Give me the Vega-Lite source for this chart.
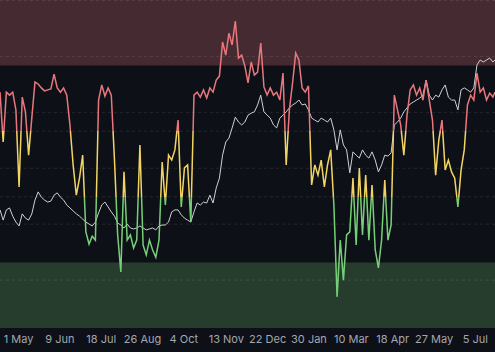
{
  "$schema": "https://vega.github.io/schema/vega-lite/v6.json",
  "width": 495,
  "height": 328,
  "autosize": {"type": "none"},
  "padding": {"left": 0, "top": 0, "right": 0, "bottom": 24},
  "background": "#0d1016",
  "config": {"view": {"stroke": null}},
  "datasets": {
    "bands": [
      {"zone": "high", "lo": 80, "hi": 100},
      {"zone": "low", "lo": 0, "hi": 20}
    ],
    "grid": [
      {"v": 99.85}, {"v": 82.8}, {"v": 65.75}, {"v": 60}, {"v": 48.7}, {"v": 40}, {"v": 31.65}, {"v": 14.6}
    ],
    "main": [
      {"d":"2023-04-14","c":71.9,"w":36.0},{"d":"2023-04-17","c":56.7,"w":32.9},{"d":"2023-04-20","c":71.9,"w":36.0},{"d":"2023-04-23","c":71.0,"w":36.6},{"d":"2023-04-26","c":71.9,"w":34.1},{"d":"2023-04-29","c":66.5,"w":32.3},{"d":"2023-05-02","c":43.0,"w":31.1},{"d":"2023-05-05","c":70.4,"w":34.8},{"d":"2023-05-08","c":65.9,"w":33.5},{"d":"2023-05-11","c":52.7,"w":32.9},
      {"d":"2023-05-14","c":64.0,"w":34.8},{"d":"2023-05-17","c":75.0,"w":39.0},{"d":"2023-05-20","c":74.4,"w":41.5},{"d":"2023-05-23","c":73.2,"w":39.9},{"d":"2023-05-26","c":72.3,"w":39.0},{"d":"2023-05-29","c":72.6,"w":38.4},{"d":"2023-06-01","c":72.9,"w":38.7},{"d":"2023-06-04","c":77.4,"w":40.5},{"d":"2023-06-07","c":73.2,"w":41.2},{"d":"2023-06-10","c":71.9,"w":39.9},
      {"d":"2023-06-13","c":73.2,"w":39.0},{"d":"2023-06-16","c":71.0,"w":37.5},{"d":"2023-06-19","c":61.9,"w":36.6},{"d":"2023-06-22","c":49.7,"w":35.7},{"d":"2023-06-25","c":40.5,"w":34.8},{"d":"2023-06-28","c":45.7,"w":34.1},{"d":"2023-07-01","c":52.7,"w":33.2},{"d":"2023-07-04","c":29.3,"w":32.3},{"d":"2023-07-07","c":25.6,"w":31.7},{"d":"2023-07-10","c":28.0,"w":31.1},
      {"d":"2023-07-13","c":26.8,"w":32.3},{"d":"2023-07-16","c":69.5,"w":35.1},{"d":"2023-07-19","c":74.1,"w":37.5},{"d":"2023-07-22","c":70.7,"w":38.4},{"d":"2023-07-25","c":73.2,"w":36.9},{"d":"2023-07-28","c":71.0,"w":35.4},{"d":"2023-07-31","c":51.2,"w":34.1},{"d":"2023-08-03","c":28.4,"w":32.0},{"d":"2023-08-06","c":17.1,"w":31.4},{"d":"2023-08-09","c":47.6,"w":30.5},
      {"d":"2023-08-12","c":26.8,"w":31.7},{"d":"2023-08-15","c":28.4,"w":30.5},{"d":"2023-08-18","c":24.4,"w":30.2},{"d":"2023-08-21","c":26.8,"w":30.5},{"d":"2023-08-24","c":55.8,"w":31.1},{"d":"2023-08-27","c":25.3,"w":30.5},{"d":"2023-08-30","c":22.3,"w":29.9},{"d":"2023-09-02","c":26.8,"w":30.2},{"d":"2023-09-05","c":23.8,"w":30.5},{"d":"2023-09-08","c":21.6,"w":29.9},
      {"d":"2023-09-11","c":26.8,"w":31.1},{"d":"2023-09-14","c":50.6,"w":31.4},{"d":"2023-09-17","c":37.5,"w":31.4},{"d":"2023-09-20","c":52.7,"w":32.3},{"d":"2023-09-23","c":51.2,"w":35.4},{"d":"2023-09-26","c":54.3,"w":36.0},{"d":"2023-09-29","c":63.4,"w":36.0},{"d":"2023-10-02","c":36.9,"w":34.5},{"d":"2023-10-05","c":48.8,"w":33.5},{"d":"2023-10-08","c":49.7,"w":32.9},
      {"d":"2023-10-11","c":32.3,"w":32.3},{"d":"2023-10-14","c":71.0,"w":35.4},{"d":"2023-10-17","c":71.9,"w":38.1},{"d":"2023-10-20","c":70.4,"w":37.5},{"d":"2023-10-23","c":72.6,"w":38.4},{"d":"2023-10-26","c":70.1,"w":38.1},{"d":"2023-10-29","c":73.2,"w":40.5},{"d":"2023-11-01","c":71.9,"w":38.1},{"d":"2023-11-04","c":75.6,"w":42.7},{"d":"2023-11-07","c":76.8,"w":45.7},
      {"d":"2023-11-10","c":87.2,"w":52.7},{"d":"2023-11-13","c":83.2,"w":56.7},{"d":"2023-11-16","c":89.9,"w":57.9},{"d":"2023-11-19","c":86.3,"w":61.0},{"d":"2023-11-22","c":93.6,"w":64.3},{"d":"2023-11-25","c":82.3,"w":62.8},{"d":"2023-11-28","c":83.2,"w":61.9},{"d":"2023-12-01","c":79.9,"w":62.8},{"d":"2023-12-04","c":74.7,"w":64.9},{"d":"2023-12-07","c":81.1,"w":65.5},
      {"d":"2023-12-10","c":77.1,"w":65.9},{"d":"2023-12-13","c":78.0,"w":68.0},{"d":"2023-12-16","c":86.9,"w":71.0},{"d":"2023-12-19","c":73.5,"w":65.9},{"d":"2023-12-22","c":71.0,"w":64.9},{"d":"2023-12-25","c":73.2,"w":64.0},{"d":"2023-12-28","c":71.0,"w":61.9},{"d":"2023-12-31","c":71.9,"w":61.0},{"d":"2024-01-03","c":69.5,"w":64.0},{"d":"2024-01-06","c":77.7,"w":64.9},
      {"d":"2024-01-09","c":49.7,"w":65.9},{"d":"2024-01-12","c":66.5,"w":67.1},{"d":"2024-01-15","c":74.7,"w":68.0},{"d":"2024-01-18","c":83.8,"w":68.6},{"d":"2024-01-21","c":81.7,"w":69.5},{"d":"2024-01-24","c":73.2,"w":68.0},{"d":"2024-01-27","c":71.9,"w":68.3},{"d":"2024-01-30","c":73.8,"w":66.5},{"d":"2024-02-02","c":43.6,"w":64.0},{"d":"2024-02-05","c":49.7,"w":63.4},
      {"d":"2024-02-08","c":46.6,"w":62.8},{"d":"2024-02-11","c":51.2,"w":64.0},{"d":"2024-02-14","c":43.0,"w":63.4},{"d":"2024-02-17","c":49.7,"w":62.8},{"d":"2024-02-20","c":54.3,"w":64.0},{"d":"2024-02-23","c":37.5,"w":60.4},{"d":"2024-02-26","c":9.5,"w":54.3},{"d":"2024-02-29","c":26.8,"w":60.4},{"d":"2024-03-03","c":14.6,"w":55.8},{"d":"2024-03-06","c":28.4,"w":54.3},
      {"d":"2024-03-09","c":29.3,"w":47.3},{"d":"2024-03-12","c":45.7,"w":53.7},{"d":"2024-03-15","c":25.3,"w":52.7},{"d":"2024-03-18","c":48.8,"w":51.8},{"d":"2024-03-21","c":28.4,"w":54.3},{"d":"2024-03-24","c":46.6,"w":52.7},{"d":"2024-03-27","c":26.8,"w":51.8},{"d":"2024-03-30","c":43.6,"w":53.7},{"d":"2024-04-02","c":23.8,"w":51.2},{"d":"2024-04-05","c":18.3,"w":47.6},
      {"d":"2024-04-08","c":26.8,"w":49.7},{"d":"2024-04-11","c":45.1,"w":52.7},{"d":"2024-04-14","c":26.8,"w":52.4},{"d":"2024-04-17","c":31.4,"w":53.4},{"d":"2024-04-20","c":71.0,"w":61.9},{"d":"2024-04-23","c":66.5,"w":62.8},{"d":"2024-04-26","c":61.9,"w":64.0},{"d":"2024-04-29","c":52.7,"w":65.9},{"d":"2024-05-02","c":64.9,"w":67.1},{"d":"2024-05-05","c":72.6,"w":68.3},
      {"d":"2024-05-08","c":74.1,"w":68.9},{"d":"2024-05-11","c":71.0,"w":69.5},{"d":"2024-05-14","c":73.2,"w":70.1},{"d":"2024-05-17","c":69.5,"w":71.0},{"d":"2024-05-20","c":75.6,"w":75.6},{"d":"2024-05-23","c":69.5,"w":71.0},{"d":"2024-05-26","c":63.4,"w":69.5},{"d":"2024-05-29","c":46.6,"w":71.0},{"d":"2024-06-01","c":57.3,"w":70.4},{"d":"2024-06-04","c":63.4,"w":72.6},
      {"d":"2024-06-07","c":48.2,"w":74.1},{"d":"2024-06-10","c":51.2,"w":70.4},{"d":"2024-06-13","c":47.6,"w":69.5},{"d":"2024-06-16","c":45.7,"w":69.5},{"d":"2024-06-19","c":36.9,"w":66.5},{"d":"2024-06-22","c":48.2,"w":72.6},{"d":"2024-06-25","c":54.3,"w":73.2},{"d":"2024-06-28","c":68.0,"w":72.6},{"d":"2024-07-01","c":71.0,"w":71.9},{"d":"2024-07-04","c":69.5,"w":73.2},
      {"d":"2024-07-07","c":77.7,"w":80.2},{"d":"2024-07-10","c":71.9,"w":81.7},{"d":"2024-07-13","c":73.2,"w":81.1},{"d":"2024-07-16","c":69.5,"w":81.7},{"d":"2024-07-19","c":71.6,"w":82.3},{"d":"2024-07-22","c":70.4,"w":81.1},{"d":"2024-07-24","c":71.9,"w":81.7}
    ]
  },
  "layer": [
    {
      "data": {"name": "bands"},
      "mark": {"type": "rect"},
      "encoding": {
        "y": {"field": "lo", "type": "quantitative", "scale": {"domain": [0, 100], "nice": false, "zero": false}, "axis": null},
        "y2": {"field": "hi"},
        "color": {"field": "zone", "type": "nominal", "scale": {"domain": ["high", "low"], "range": ["#452a31", "#263d2d"]}, "legend": null}
      }
    },
    {
      "data": {"name": "grid"},
      "mark": {"type": "rule", "stroke": "#ffffff", "strokeOpacity": 0.1, "strokeWidth": 1, "strokeDash": [3, 3]},
      "encoding": {
        "y": {"field": "v", "type": "quantitative"}
      }
    },
    {
      "data": {"name": "main"},
      "encoding": {
        "x": {
          "field": "d", "type": "temporal",
          "scale": {"type": "utc", "domain": [{"year": 2023, "month": 4, "date": 14, "utc": true}, {"year": 2024, "month": 7, "date": 24, "utc": true}], "nice": false},
          "axis": {
            "title": null, "domain": false, "ticks": false, "grid": false,
            "labelExpr": "utcFormat(datum.value, '%-d %b')",
            "labelColor": "#a3a7ae", "labelFontSize": 11, "labelFont": "Inter",
            "labelPadding": 5, "labelFlush": false, "labelOverlap": false, "labelBound": false,
            "values": [
              {"year": 2023, "month": 5, "date": 1, "utc": true},
              {"year": 2023, "month": 6, "date": 9, "utc": true},
              {"year": 2023, "month": 7, "date": 18, "utc": true},
              {"year": 2023, "month": 8, "date": 26, "utc": true},
              {"year": 2023, "month": 10, "date": 4, "utc": true},
              {"year": 2023, "month": 11, "date": 13, "utc": true},
              {"year": 2023, "month": 12, "date": 22, "utc": true},
              {"year": 2024, "month": 1, "date": 30, "utc": true},
              {"year": 2024, "month": 3, "date": 10, "utc": true},
              {"year": 2024, "month": 4, "date": 18, "utc": true},
              {"year": 2024, "month": 5, "date": 27, "utc": true},
              {"year": 2024, "month": 7, "date": 5, "utc": true}
            ]
          }
        }
      },
      "layer": [
        {
          "mark": {"type": "line", "stroke": "#cfd0d2", "strokeWidth": 1, "interpolate": "linear"},
          "encoding": {"y": {"field": "w", "type": "quantitative"}}
        },
        {
          "mark": {
            "type": "line", "strokeWidth": 1.5, "interpolate": "linear",
            "stroke": {
              "gradient": "linear", "x1": 0, "y1": 0, "x2": 0, "y2": 1,
              "stops": [
                {"offset": 0, "color": "#e8777d"},
                {"offset": 0.3995, "color": "#e8777d"},
                {"offset": 0.3995, "color": "#f2d463"},
                {"offset": 0.6373, "color": "#f2d463"},
                {"offset": 0.6373, "color": "#76cf76"},
                {"offset": 1, "color": "#76cf76"}
              ]
            }
          },
          "encoding": {"y": {"field": "c", "type": "quantitative"}}
        }
      ]
    }
  ]
}
